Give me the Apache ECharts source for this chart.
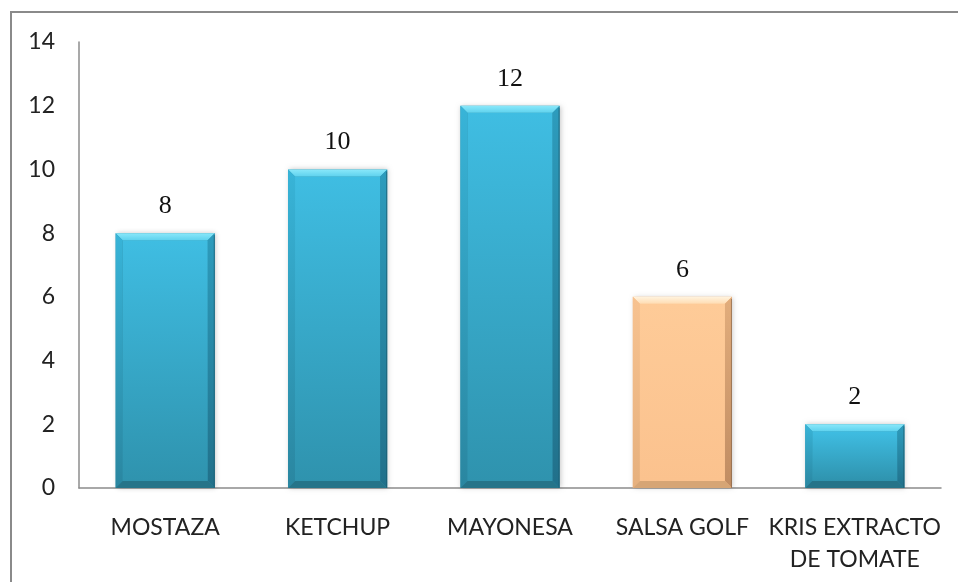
<!DOCTYPE html>
<html>
<head>
<meta charset="utf-8">
<script src="https://cdn.jsdelivr.net/npm/echarts@6/dist/echarts.min.js"></script>
<style>
  html, body { margin: 0; padding: 0; background: #ffffff; }
  #chart { width: 958px; height: 582px; }
</style>
</head>
<body>
<div id="chart"></div>
<script>
// Product categories and their counts
const categories = ['MOSTAZA', 'KETCHUP', 'MAYONESA', 'SALSA GOLF', 'KRIS EXTRACTO\nDE TOMATE'];
const values = [8, 10, 12, 6, 2];
const yTicks = [0, 2, 4, 6, 8, 10, 12, 14];

// The one bar drawn in the accent colour
const accentCategory = 'SALSA GOLF';

const palettes = {
  blue: {
    bodyTop: '#3fbde2', bodyBottom: '#2f93ae',
    topBevel: ['#8ae8fa', '#5fd2ee'],
    leftBevel: ['#38b4d8', '#2a86a0'],
    rightBevel: ['#2d9cbd', '#21708a'],
    bottomBevel: '#267489',
    edge: '#1d5a6c'
  },
  orange: {
    bodyTop: '#fecb98', bodyBottom: '#fbc28e',
    topBevel: ['#fff3de', '#ffdcb2'],
    leftBevel: ['#f7c290', '#e6b07d'],
    rightBevel: ['#e2ad7c', '#c08c62'],
    bottomBevel: '#d6a575',
    edge: '#86664b'
  }
};

const grad = (a, b) => new echarts.graphic.LinearGradient(0, 0, 0, 1, [
  { offset: 0, color: a }, { offset: 1, color: b }
]);

function renderBevelBar(params, api) {
  const idx = api.value(0);
  const v = api.value(1);
  const top = api.coord([idx, v]);
  const base = api.coord([idx, 0]);
  const w = api.size([1, 0])[0] * 0.575;
  const x0 = top[0] - w / 2, x1 = top[0] + w / 2;
  const y0 = top[1], y1 = base[1];
  const b = 7;
  const p = categories[idx] === accentCategory ? palettes.orange : palettes.blue;
  return {
    type: 'group',
    children: [
      { type: 'rect', shape: { x: x0, y: y0, width: w, height: y1 - y0 },
        style: { fill: p.bodyBottom, shadowBlur: 5, shadowColor: 'rgba(0,0,0,0.22)', shadowOffsetX: 1 } },
      { type: 'rect', shape: { x: x0 + b, y: y0 + b, width: w - 2 * b, height: y1 - y0 - 2 * b },
        style: { fill: grad(p.bodyTop, p.bodyBottom) } },
      { type: 'polygon', shape: { points: [[x0, y0], [x1, y0], [x1 - b, y0 + b], [x0 + b, y0 + b]] },
        style: { fill: grad(p.topBevel[0], p.topBevel[1]) } },
      { type: 'polygon', shape: { points: [[x0, y0], [x0 + b, y0 + b], [x0 + b, y1 - b], [x0, y1]] },
        style: { fill: grad(p.leftBevel[0], p.leftBevel[1]) } },
      { type: 'polygon', shape: { points: [[x1, y0], [x1, y1], [x1 - b, y1 - b], [x1 - b, y0 + b]] },
        style: { fill: grad(p.rightBevel[0], p.rightBevel[1]) } },
      { type: 'polygon', shape: { points: [[x0, y1], [x0 + b, y1 - b], [x1 - b, y1 - b], [x1, y1]] },
        style: { fill: p.bottomBevel } },
      { type: 'line', shape: { x1: x1 - 0.5, y1: y0 + 2, x2: x1 - 0.5, y2: y1 },
        style: { stroke: p.edge, lineWidth: 1, opacity: 0.7 } },
      { type: 'text', x: top[0], y: y0 - 14,
        style: { text: String(v), font: '26px "Liberation Serif", "Times New Roman", serif',
                 fill: '#111111', align: 'center', verticalAlign: 'bottom' } }
    ]
  };
}

const chart = echarts.init(document.getElementById('chart'), null, { renderer: 'canvas' });

chart.setOption({
  backgroundColor: '#ffffff',
  animation: false,
  graphic: [{
    type: 'rect', z: -10, silent: true,
    shape: { x: 11, y: 12, width: 1000, height: 1000 },
    style: { fill: 'none', stroke: '#8a8a8a', lineWidth: 2 }
  }],
  grid: { left: 79, right: 17, top: 42, bottom: 94, containLabel: false },
  xAxis: {
    type: 'category',
    data: categories,
    axisLine: { show: true, lineStyle: { color: '#8c8c8c', width: 1.5 } },
    axisTick: { show: false },
    axisLabel: {
      interval: 0, margin: 24, color: '#222222',
      fontFamily: 'Lato, "Open Sans", sans-serif', fontSize: 23, lineHeight: 32
    },
    splitLine: { show: false }
  },
  yAxis: {
    type: 'value',
    min: yTicks[0], max: yTicks[yTicks.length - 1], interval: yTicks[1] - yTicks[0],
    axisLine: { show: true, lineStyle: { color: '#8c8c8c', width: 1.5 } },
    axisTick: { show: false },
    splitLine: { show: false },
    axisLabel: {
      margin: 24, color: '#222222',
      fontFamily: 'Lato, "Open Sans", sans-serif', fontSize: 23
    }
  },
  series: [{
    type: 'custom',
    renderItem: renderBevelBar,
    encode: { x: 0, y: 1 },
    data: values.map((v, i) => [i, v]),
    z: 2
  }]
});
</script>
</body>
</html>
